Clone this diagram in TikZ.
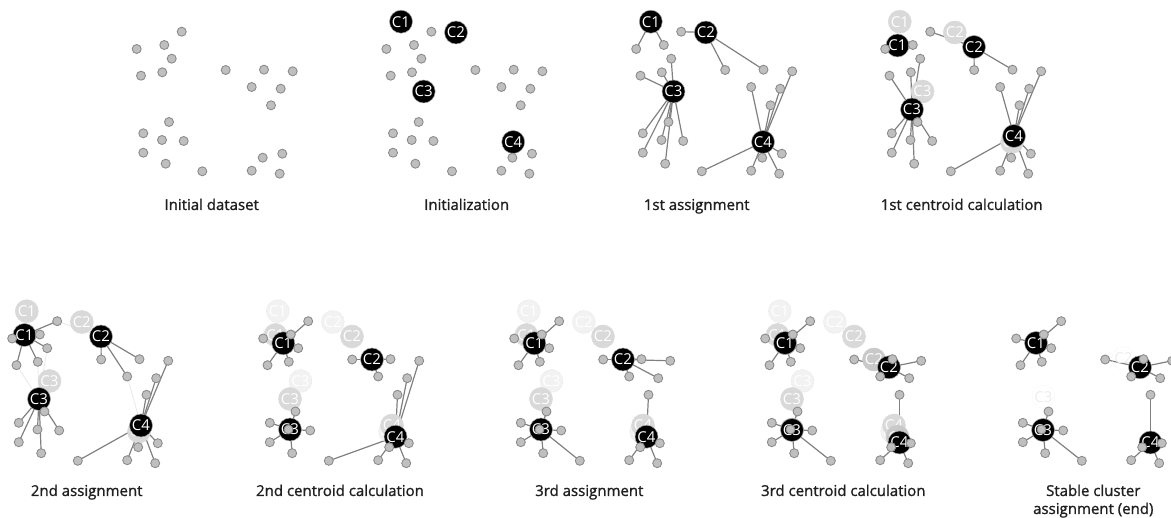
\documentclass[tikz,border=0pt]{standalone}
\usepackage{fontspec}
\setmainfont{Open Sans}
\newfontfamily\lblfont{Open Sans}[FakeBold=1.2]
\usetikzlibrary{positioning}

\pgfdeclarelayer{bg}
\pgfsetlayers{bg,main}

% data points (pixel units, y downwards)
\newcommand\pointlist{1/181.7/31.7,2/136.7/49,3/164.3/45,4/171.7/58.7,5/141/75.7,6/162.3/72.3,7/225.7/70,8/264/69.7,9/292.7/71.3,10/251.7/87,11/280.7/88.7,12/271/105.3,13/169/122,14/143.3/133.3,15/162/140,16/183.7/141,17/143.3/152.7,18/165.7/163.7,19/202.3/171.3,20/262.7/157.7,21/282.3/153.7,22/251.7/170.7,23/279.7/173.7}

% centroids after each step
\newcommand\stepzero{1/151.3/21.7,2/206.3/32.5,3/174/91.5,4/263.5/142}
\newcommand\stepone{1/149/45.5,2/225.5/47,3/163.5/109.5,4/265.5/136}
\newcommand\steptwo{1/156.8/53.8,2/245.5/70,3/163.5/140,4/269/147.2}
\newcommand\stepthree{1/156.5/53.5,2/260.5/77.8,3/163.5/140.5,4/271/153}

% centroid/point assignments
\newcommand\asgone{1/2,1/3,2/1,2/7,2/8,3/4,3/5,3/6,3/13,3/14,3/15,3/16,3/17,3/18,4/9,4/10,4/11,4/12,4/19,4/20,4/21,4/22,4/23}
\newcommand\asgtwo{1/1,1/2,1/3,1/4,1/5,1/6,2/7,2/8,2/10,3/13,3/14,3/15,3/16,3/17,3/18,4/9,4/11,4/12,4/19,4/20,4/21,4/22,4/23}
\newcommand\asgthree{1/1,1/2,1/3,1/4,1/5,1/6,2/7,2/8,2/9,2/10,2/11,3/13,3/14,3/15,3/16,3/17,3/18,3/19,4/12,4/20,4/21,4/22,4/23}
\newcommand\asgmoved{2/1,3/4,3/5,3/6,4/10}

\newcommand\putdata[1]{\foreach \pn/\px/\py in \pointlist {\node[datapt] (#1-\pn) at (\px,\py) {};}}
\newcommand\putcent[4]{\foreach \cn/\px/\py in #2 {\node[#3] (#1-#4\cn) at (\px,\py) {C\cn};}}
\newcommand\putlinks[3][link]{\begin{pgfonlayer}{bg}\foreach \cn/\pn in #3 {\draw[#1] (#2-c\cn.center) -- (#2-\pn.center);}\end{pgfonlayer}}

\tikzset{
  datapt/.style={circle,draw=gray!90,fill=gray!50,line width=0.9pt,inner sep=0pt,minimum size=9pt},
  cen/.style={circle,fill=black,draw=gray!70,line width=0.5pt,inner sep=0pt,minimum size=23pt,text=white,font=\fontsize{15}{15}\selectfont},
  ghost/.style={cen,fill=gray!30,draw=gray!30},
  recent/.style={cen,fill=gray!42,draw=gray!42},
  oldghost/.style={cen,fill=gray!10,draw=gray!25,densely dotted},
  trace/.style={cen,fill=none,draw=gray!15,densely dotted,text=gray!15},
  link/.style={draw=gray,line width=1.2pt},
  oldlink/.style={draw=gray!18,line width=0.8pt},
  lbl/.style={font=\lblfont\fontsize{15}{18}\selectfont,text=black!88}
}

\begin{document}
\begin{tikzpicture}[x=1pt,y=-1pt]
  \useasboundingbox (0,0) rectangle (1171,518);

  % top row
  \begin{scope}[shift={(0,0)}]
    \putdata{a}
  \end{scope}
  \begin{scope}[shift={(249.7,0)}]
    \putcent{b}{\stepzero}{cen}{c}
    \putdata{b}
  \end{scope}
  \begin{scope}[shift={(499.5,0)}]
    \putcent{c}{\stepzero}{cen}{c}
    \putdata{c}
    \putlinks{c}{\asgone}
  \end{scope}
  \begin{scope}[shift={(748.5,0)}]
    \putcent{d}{\stepzero}{ghost}{g}
    \putcent{d}{\stepone}{cen}{c}
    \putdata{d}
    \putlinks{d}{\asgone}
  \end{scope}

  % bottom row
  \begin{scope}[shift={(-124.5,289.5)}]
    \putcent{e}{\stepzero}{ghost}{g}
    \putcent{e}{\stepone}{cen}{c}
    \putdata{e}
    \putlinks[oldlink]{e}{\asgmoved}
    \putlinks{e}{\asgtwo}
  \end{scope}
  \begin{scope}[shift={(126.5,289.5)}]
    \putcent{f}{\stepzero}{oldghost}{o}
    \putcent{f}{\stepone}{ghost}{g}
    \putcent{f}{\steptwo}{cen}{c}
    \putdata{f}
    \putlinks{f}{\asgtwo}
  \end{scope}
  \begin{scope}[shift={(377.5,289.5)}]
    \putcent{g}{\stepzero}{oldghost}{o}
    \putcent{g}{\stepone}{ghost}{g}
    \putcent{g}{\steptwo}{cen}{c}
    \putdata{g}
    \putlinks{g}{\asgthree}
  \end{scope}
  \begin{scope}[shift={(628.5,289.5)}]
    \putcent{h}{\stepzero}{oldghost}{o}
    \putcent{h}{\stepone}{ghost}{g}
    \putcent{h}{\steptwo}{recent}{r}
    \putcent{h}{\stepthree}{cen}{c}
    \putdata{h}
    \putlinks{h}{\asgthree}
  \end{scope}
  \begin{scope}[shift={(879.5,289.5)}]
    \node[trace] (i-t2) at (243.8,68.8) {C2};
    \node[trace] (i-t3) at (163.8,107.2) {C3};
    \putcent{i}{\stepthree}{cen}{c}
    \putdata{i}
    \putlinks{i}{\asgthree}
  \end{scope}

  % captions
  \node[lbl,anchor=base] (l1) at (211.7,210) {Initial dataset};
  \node[lbl,anchor=base] (l2) at (466.7,210) {Initialization};
  \node[lbl,anchor=base] (l3) at (696.7,210) {1st assignment};
  \node[lbl,anchor=base] (l4) at (961.7,210) {1st centroid calculation};
  \node[lbl,anchor=base] (l5) at (86.7,496) {2nd assignment};
  \node[lbl,anchor=base] (l6) at (340,496) {2nd centroid calculation};
  \node[lbl,anchor=base] (l7) at (589.3,496) {3rd assignment};
  \node[lbl,anchor=base] (l8) at (843.3,496) {3rd centroid calculation};
  \node[lbl,anchor=base,align=center] (l9) at (1093.3,514) {Stable cluster\\assignment (end)};
\end{tikzpicture}
\end{document}
